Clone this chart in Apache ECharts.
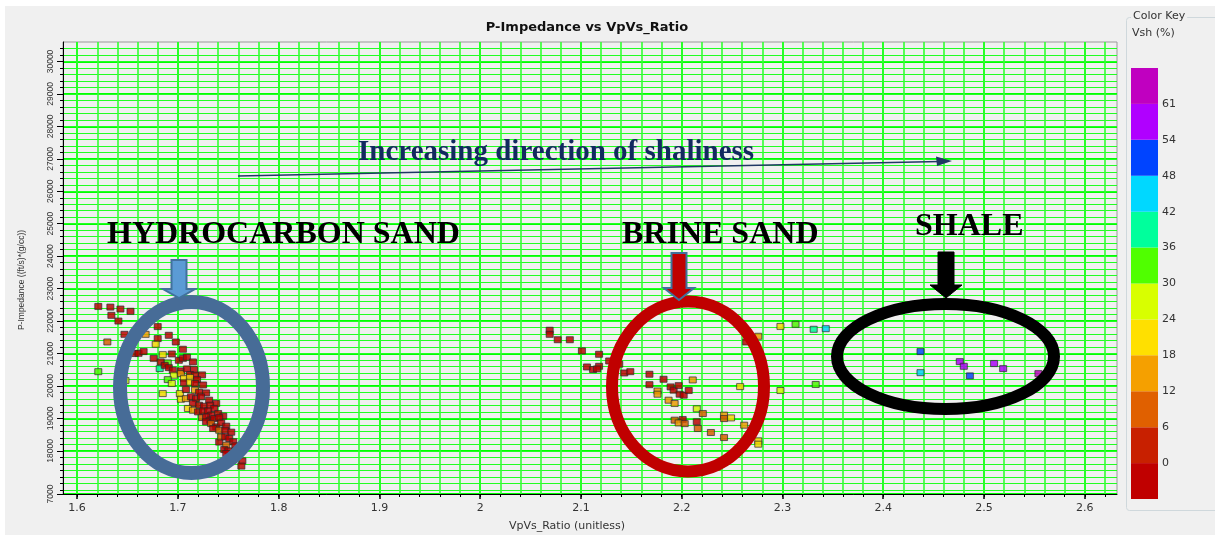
<!DOCTYPE html>
<html>
<head>
    <meta charset="utf-8">
    <title>P-Impedance vs VpVs_Ratio</title>
    <script src="https://cdn.jsdelivr.net/npm/echarts@6.0.0/dist/echarts.min.js"></script>
    <style>
        html, body { margin: 0; padding: 0; background: #f0f0f0; }
        #main { width: 1215px; height: 535px; }
    </style>
</head>
<body>
    <div id="main"></div>
    <script>
        // points: [VpVs_Ratio, P-Impedance, Vsh %]
        const hydrocarbonSand = [
            [1.621, 22450, 0], [1.633, 22430, 0], [1.643, 22370, 0], [1.653, 22300, 0], [1.634, 22175, 0],
            [1.641, 22000, 0], [1.647, 21590, 0], [1.668, 21590, 15], [1.680, 21830, 0], [1.691, 21560, 0],
            [1.680, 21460, 0], [1.630, 21355, 9], [1.678, 21285, 21], [1.698, 21355, 0], [1.657, 21000, 0],
            [1.661, 21005, 0], [1.666, 21060, 0], [1.685, 20965, 21], [1.694, 20985, 0], [1.705, 21130, 0],
            [1.676, 20850, 0], [1.683, 20740, 0], [1.690, 20710, 33], [1.701, 20790, 0], [1.705, 20850, 0],
            [1.709, 20885, 0], [1.715, 20740, 0], [1.682, 20535, 39], [1.687, 20635, 0], [1.691, 20565, 0],
            [1.695, 20485, 0], [1.621, 20440, 33], [1.648, 20165, 27], [1.696, 20330, 27], [1.690, 20195, 33],
            [1.694, 20075, 27], [1.703, 20465, 0], [1.703, 20380, 15], [1.709, 20525, 0], [1.716, 20505, 0],
            [1.712, 20350, 0], [1.717, 20330, 0], [1.724, 20340, 0], [1.706, 20235, 21], [1.712, 20260, 21],
            [1.719, 20195, 0], [1.706, 20095, 0], [1.712, 20115, 21], [1.717, 20075, 0], [1.725, 20030, 0],
            [1.685, 19765, 21], [1.702, 19765, 21], [1.708, 19890, 0], [1.717, 19870, 15], [1.721, 19805, 0],
            [1.728, 19785, 0], [1.703, 19590, 21], [1.708, 19610, 15], [1.713, 19665, 0], [1.718, 19610, 0],
            [1.723, 19665, 0], [1.731, 19560, 0], [1.738, 19460, 0], [1.715, 19460, 0], [1.721, 19405, 0],
            [1.726, 19375, 0], [1.732, 19405, 0], [1.736, 19305, 0], [1.710, 19305, 21], [1.715, 19250, 15],
            [1.720, 19200, 0], [1.725, 19230, 0], [1.730, 19230, 0], [1.733, 19100, 0], [1.740, 19150, 0],
            [1.745, 19070, 0], [1.724, 19025, 9], [1.728, 19045, 0], [1.732, 18945, 0], [1.736, 18995, 0],
            [1.741, 19025, 0], [1.728, 18895, 0], [1.733, 18840, 9], [1.738, 18740, 0], [1.743, 18860, 0],
            [1.748, 18760, 0], [1.735, 18690, 0], [1.741, 18635, 9], [1.747, 18635, 0], [1.753, 18575, 0],
            [1.741, 18270, 0], [1.743, 18430, 9], [1.747, 18430, 0], [1.751, 18380, 0], [1.755, 18280, 0],
            [1.748, 18175, 9], [1.746, 18040, 0], [1.750, 18000, 0], [1.748, 17920, 0], [1.757, 18155, 0],
            [1.758, 18020, 0], [1.764, 17690, 0], [1.763, 17530, 0]
        ];
        const brineSand = [
            [2.069, 21715, 0], [2.069, 21590, 0], [2.077, 21425, 0], [2.089, 21425, 0], [2.101, 21080, 0],
            [2.118, 20975, 0], [2.106, 20585, 0], [2.112, 20505, 0], [2.118, 20605, 0], [2.116, 20525, 0],
            [2.128, 20770, 0], [2.138, 20670, 0], [2.143, 20400, 0], [2.149, 20440, 0], [2.168, 20360, 0],
            [2.168, 20040, 0], [2.182, 20205, 0], [2.176, 19845, 15], [2.176, 19745, 15], [2.189, 19970, 0],
            [2.192, 19870, 0], [2.197, 20010, 0], [2.198, 19745, 0], [2.202, 19715, 0], [2.207, 19860, 0],
            [2.211, 20185, 15], [2.187, 19560, 15], [2.193, 19460, 17], [2.215, 19295, 27], [2.221, 19150, 9],
            [2.193, 18945, 9], [2.201, 18965, 0], [2.197, 18860, 15], [2.203, 18840, 9], [2.215, 18895, 0],
            [2.216, 18690, 9], [2.229, 18565, 9], [2.242, 19100, 15], [2.242, 18995, 9], [2.249, 19015, 21],
            [2.258, 19980, 21], [2.262, 18790, 15], [2.242, 18410, 9], [2.276, 21530, 15], [2.264, 21355, 0],
            [2.276, 18310, 21], [2.276, 18205, 21], [2.298, 21835, 21], [2.313, 21900, 33], [2.331, 21745, 39],
            [2.343, 21765, 45], [2.298, 19860, 27], [2.333, 20045, 33]
        ];
        const shale = [
            [2.437, 21060, 51], [2.437, 20410, 45], [2.476, 20750, 57], [2.480, 20605, 57],
            [2.486, 20310, 51], [2.510, 20690, 57], [2.519, 20535, 57], [2.554, 20380, 64]
        ];

        // axes
        const xMin = 1.586, xMax = 2.632;
        const xTicks = [1.6, 1.7, 1.8, 1.9, 2.0, 2.1, 2.2, 2.3, 2.4, 2.5, 2.6];
        const xTickLabels = ['1.6', '1.7', '1.8', '1.9', '2', '2.1', '2.2', '2.3', '2.4', '2.5', '2.6'];
        const yMin = 16670, yMax = 30600;
        const yTicks = [16670, 18000, 19000, 20000, 21000, 22000, 23000, 24000, 25000, 26000, 27000, 28000, 29000, 30000];
        const yTickLabels = ['7000', '18000', '19000', '20000', '21000', '22000', '23000', '24000', '25000', '26000', '27000', '28000', '29000', '30000'];

        // minor grid lines
        const xMinor = [];
        for (let i = 0; i <= 51; i++) xMinor.push(Math.round((1.6 + i * 0.02) * 1000) / 1000);
        const yMinor = [];
        for (let v = 16800; v <= 30400; v += 200) yMinor.push(v);

        // colour key, bottom to top
        const keyColors = ['#c00000', '#c82000', '#e06000', '#f5a000', '#ffe000', '#d8ff00',
                           '#50ff00', '#00ff9c', '#00d8ff', '#0044ff', '#b000ff', '#c000c0'];
        const keyLabels = ['0', '6', '12', '18', '24', '30', '36', '42', '48', '54', '61'];

        const pieces = keyColors.map((c, i) => {
            if (i === 0) return { lte: 0, color: c };
            if (i === keyColors.length - 1) return { gt: 61, color: c };
            return { gt: Number(keyLabels[i - 1]), lte: Number(keyLabels[i]), color: c };
        });

        const pointStyle = {
            borderColor: '#2a2a2a',
            borderWidth: 0.8,
            shadowBlur: 1.5,
            shadowColor: 'rgba(0,0,0,0.2)'
        };
        const scatterSeries = [hydrocarbonSand, brineSand, shale].map(d => ({
            type: 'scatter',
            xAxisIndex: 0,
            yAxisIndex: 0,
            symbol: 'rect',
            symbolSize: [7, 6],
            data: d,
            itemStyle: pointStyle,
            z: 5
        }));

        const keySeries = keyColors.map(c => ({
            type: 'bar',
            xAxisIndex: 2,
            yAxisIndex: 2,
            stack: 'key',
            barWidth: '100%',
            data: [1],
            itemStyle: { color: c },
            silent: true
        }));

        const fontAxis = '"DejaVu Sans", sans-serif';
        const serif = '"Liberation Serif", "DejaVu Serif", serif';

        const chart = echarts.init(document.getElementById('main'));
        const option = {
            backgroundColor: '#f0f0f0',
            animation: false,
            title: {
                text: 'P-Impedance vs VpVs_Ratio',
                left: 582,
                top: 16,
                textAlign: 'center',
                textStyle: { fontFamily: fontAxis, fontSize: 13, fontWeight: 'bold', color: '#111' }
            },
            grid: [
                { left: 63, top: 42, right: 98, bottom: 41, show: true, backgroundColor: '#f0f0f0',
                  borderColor: '#9a9a9a', borderWidth: 1, outerBoundsMode: 'none' },
                { left: 1131, top: 68, width: 27, height: 431, outerBoundsMode: 'none' }
            ],
            visualMap: {
                type: 'piecewise',
                show: false,
                dimension: 2,
                seriesIndex: [0, 1, 2],
                pieces: pieces
            },
            xAxis: [
                {
                    type: 'value', gridIndex: 0, min: xMin, max: xMax, position: 'bottom',
                    name: 'VpVs_Ratio (unitless)', nameLocation: 'middle', nameGap: 27,
                    nameTextStyle: { fontFamily: fontAxis, fontSize: 11, color: '#333', padding: [0, 46, 0, 0] },
                    axisLine: { onZero: false, lineStyle: { color: '#000' } },
                    axisTick: { length: 5, customValues: xTicks, lineStyle: { color: '#000', width: 1.5 } },
                    axisLabel: {
                        customValues: xTicks, margin: 9, fontFamily: fontAxis, fontSize: 11, color: '#333',
                        formatter: v => xTickLabels[xTicks.findIndex(t => Math.abs(t - v) < 1e-6)]
                    },
                    splitLine: { show: true, lineStyle: { color: '#00ff00', width: 2 } }
                },
                {
                    type: 'value', gridIndex: 0, min: xMin, max: xMax, position: 'bottom',
                    axisLine: { show: false },
                    axisTick: { show: true, length: 3, customValues: xMinor, lineStyle: { color: '#000' } },
                    axisLabel: { show: false },
                    splitLine: { show: true, lineStyle: { color: '#33ff33', width: 1.6 } }
                },
                { type: 'category', gridIndex: 1, data: [''], show: false }
            ],
            yAxis: [
                {
                    type: 'value', gridIndex: 0, min: yMin, max: yMax, position: 'left',
                    name: 'P-Impedance ((ft/s)*(g/cc))', nameLocation: 'middle', nameGap: 37, nameRotate: 90,
                    nameTextStyle: { fontFamily: '"Liberation Sans", sans-serif', fontSize: 8.5, color: '#333', padding: [0, 24, 0, 0] },
                    axisLine: { show: true, onZero: false, lineStyle: { color: '#000' } },
                    axisTick: { show: true, length: 6, customValues: yTicks, lineStyle: { color: '#000' } },
                    axisLabel: {
                        customValues: yTicks, rotate: 90, margin: 8,
                        fontFamily: '"Liberation Sans", sans-serif', fontSize: 8.5, color: '#333',
                        formatter: v => yTickLabels[yTicks.findIndex(t => Math.abs(t - v) < 1e-6)]
                    },
                    splitLine: { show: true, lineStyle: { color: '#00ff00', width: 2 } }
                },
                {
                    type: 'value', gridIndex: 0, min: yMin, max: yMax, position: 'left',
                    axisLine: { show: false },
                    axisTick: { show: true, length: 3, customValues: yMinor, lineStyle: { color: '#000' } },
                    axisLabel: { show: false },
                    splitLine: { show: true, lineStyle: { color: '#22ff22', width: 1.2 } }
                },
                {
                    type: 'value', gridIndex: 1, min: 0, max: 12, interval: 1, position: 'right',
                    axisLine: { show: false },
                    axisTick: { show: false },
                    splitLine: { show: false },
                    axisLabel: {
                        margin: 4, fontFamily: fontAxis, fontSize: 11, color: '#333',
                        formatter: v => (v >= 1 && v <= 11) ? keyLabels[v - 1] : ''
                    }
                }
            ],
            series: scatterSeries.concat(keySeries),
            graphic: [
                { type: 'rect', z: 100, silent: true, shape: { x: 0, y: 0, width: 1215, height: 6 }, style: { fill: '#fff' } },
                { type: 'rect', z: 100, silent: true, shape: { x: 0, y: 0, width: 5, height: 535 }, style: { fill: '#fff' } },
                // colour key frame
                { type: 'rect', z: 100, silent: true, shape: { x: 1126.5, y: 17.5, width: 100, height: 493, r: 3 },
                  style: { fill: 'none', stroke: '#cfd8dc', lineWidth: 1 } },
                { type: 'text', z: 101, x: 1131, y: 11, style: { text: 'Color Key', font: '11px ' + fontAxis, fill: '#333',
                  backgroundColor: '#f0f0f0', padding: [0, 2] } },
                { type: 'text', z: 101, x: 1132, y: 28, style: { text: 'Vsh (%)', font: '11px ' + fontAxis, fill: '#333' } },

                // shaliness arrow
                { type: 'line', z: 100, shape: { x1: 238, y1: 176, x2: 940, y2: 161.5 }, style: { stroke: '#1f3864', lineWidth: 1.5 } },
                { type: 'polygon', z: 100, shape: { points: [[952, 161], [936, 156.5], [937, 166]] }, style: { fill: '#1f3864' } },
                { type: 'text', z: 100, x: 358, y: 153, style: { text: 'Increasing direction of shaliness',
                  font: 'bold 29px ' + serif, fill: '#12295f', verticalAlign: 'middle' } },

                // labels
                { type: 'text', z: 100, x: 107, y: 235, style: { text: 'HYDROCARBON SAND', font: 'bold 32px ' + serif, fill: '#000', verticalAlign: 'middle' } },
                { type: 'text', z: 100, x: 622, y: 235, style: { text: 'BRINE SAND', font: 'bold 32px ' + serif, fill: '#000', verticalAlign: 'middle' } },
                { type: 'text', z: 100, x: 915, y: 227, style: { text: 'SHALE', font: 'bold 32px ' + serif, fill: '#000', verticalAlign: 'middle' } },

                // ellipses
                { type: 'ellipse', z: 100, shape: { cx: 191.5, cy: 387.5, rx: 71.5, ry: 85.5 }, style: { fill: 'none', stroke: '#476c97', lineWidth: 14 } },
                { type: 'ellipse', z: 100, shape: { cx: 688, cy: 386.5, rx: 76, ry: 85 }, style: { fill: 'none', stroke: '#c00000', lineWidth: 12 } },
                { type: 'ellipse', z: 100, shape: { cx: 945.5, cy: 356.5, rx: 108.5, ry: 52.5 }, style: { fill: 'none', stroke: '#000', lineWidth: 12 } },

                // block arrows
                { type: 'polygon', z: 101, shape: { points: [[171.5, 260], [186.5, 260], [186.5, 289], [195, 289], [179, 298], [163, 289], [171.5, 289]] },
                  style: { fill: '#5b9bd5', stroke: '#41719c', lineWidth: 2 } },
                { type: 'polygon', z: 101, shape: { points: [[671.5, 253], [686.5, 253], [686.5, 288], [694, 288], [679, 300], [664, 288], [671.5, 288]] },
                  style: { fill: '#c00000', stroke: '#41719c', lineWidth: 2 } },
                { type: 'polygon', z: 101, shape: { points: [[938, 252], [954, 252], [954, 285], [962, 285], [946, 298], [930, 285], [938, 285]] },
                  style: { fill: '#000', stroke: '#000', lineWidth: 1 } }
            ]
        };
        chart.setOption(option);
    </script>
</body>
</html>
